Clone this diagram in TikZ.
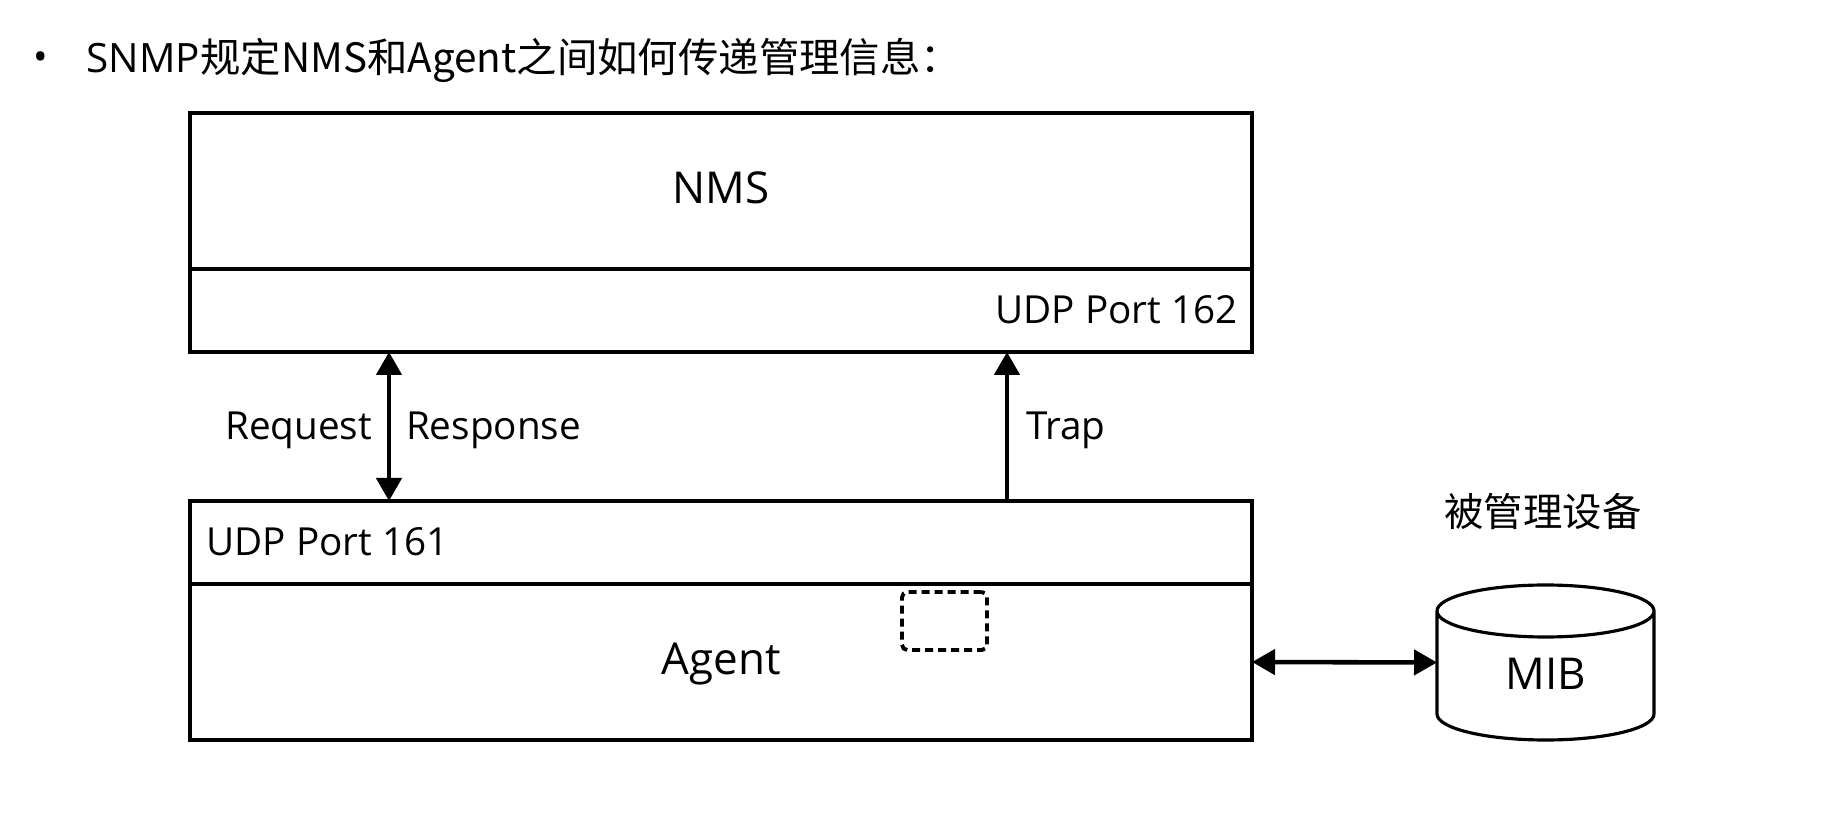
\documentclass[tikz,border=0pt]{standalone}
\usepackage{fontspec}
\setmainfont{Open Sans}
\newfontfamily\cjk{Noto Sans CJK SC}
\usetikzlibrary{arrows.meta,positioning}

\begin{document}
\begin{tikzpicture}[
        layer/.style={draw, line width=0.9pt, minimum width=10.62cm, inner sep=0pt, outer sep=0pt},
        lbl/.style={font=\fontsize{11}{13}\selectfont, text height=0.714em, text depth=0pt},
        big/.style={font=\fontsize{12.5}{15}\selectfont, text height=0.714em, text depth=0pt},
        biarrow/.style={line width=1.3pt, {Triangle[width=0.25cm,length=0.23cm]}-{Triangle[width=0.25cm,length=0.23cm]}},
        uparrow/.style={line width=1.3pt, -{Triangle[width=0.25cm,length=0.23cm]}}]
        % 画布范围
        \useasboundingbox (0,0) rectangle (18.42,8.2);
        % 标题
        \node[lbl] (dot) at (0.41,7.62) {•};
        \node[anchor=west, inner sep=0pt, font=\fontsize{11.5}{14}\selectfont,
              text height=0.714em, text depth=0pt] (title) at (0.86,7.60)
          {SNMP\cjk{规定}NMS\cjk{和}Agent\cjk{之间如何传递管理信息：}};
        % NMS 两层
        \node[layer, big, minimum height=1.56cm] (nms) at (7.21,6.29) {NMS};
        \node[layer, minimum height=0.83cm, below=0pt of nms] (port162) {};
        \node[lbl, anchor=east] (p162) at ([xshift=-0.02cm]port162.east) {UDP Port 162};
        % Agent 两层
        \node[layer, minimum height=0.83cm] (port161) at (7.21,2.775) {};
        \node[layer, big, minimum height=1.56cm, below=0pt of port161] (agent) {Agent};
        \node[lbl, anchor=west] (p161) at ([xshift=0.04cm]port161.west) {UDP Port 161};
        % 虚线小框
        \node[draw, line width=1.1pt, rounded corners=1.5pt, dash pattern=on 0.08cm off 0.05cm,
              minimum width=0.85cm, minimum height=0.58cm] (spot) at (9.445,1.99) {};
        % 箭头位置
        \coordinate (reqx) at (3.89,0);
        \coordinate (trapx) at (10.07,0);
        \draw[biarrow] (port162.south -| reqx) -- (port161.north -| reqx)
          node[midway, lbl, left=0.03cm] (req) {Request}
          node[midway, lbl, right=0.03cm] (resp) {Response};
        \draw[uparrow] (port161.north -| trapx) -- (port162.south -| trapx)
          node[midway, lbl, right=0.05cm] (trap) {Trap};
        % MIB 数据库
        \node[minimum width=2.17cm, minimum height=1.55cm, inner sep=0pt, outer sep=0pt] (mib) at (15.455,1.575) {};
        \draw[line width=0.9pt] ([yshift=-0.26cm]mib.north west) -- ([yshift=0.26cm]mib.south west)
          arc[start angle=180, end angle=360, x radius=1.085cm, y radius=0.26cm]
          -- ([yshift=-0.26cm]mib.north east)
          arc[start angle=0, end angle=360, x radius=1.085cm, y radius=0.26cm];
        \node[big] (mibtxt) at ([yshift=-0.145cm]mib.center) {MIB};
        \node[font=\fontsize{11.2}{13}\selectfont, text height=0.8em, text depth=0pt] (dev) at (15.43,3.08) {\cjk{被管理设备}};
        \draw[biarrow] (agent.east) -- (mib.west);
\end{tikzpicture}
\end{document}
